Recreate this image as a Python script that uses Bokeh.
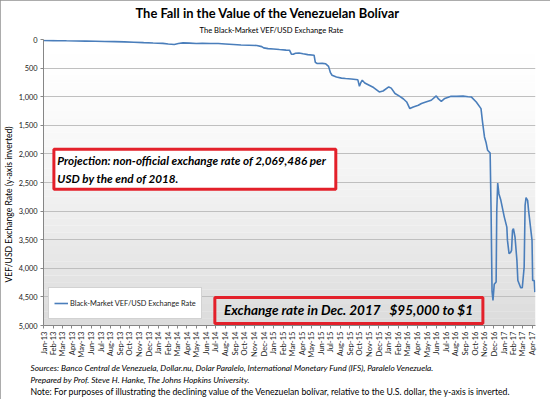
import pandas as pd
from math import pi
from bokeh.plotting import figure
from bokeh.models import (Range1d, MonthsTicker, DatetimeTickFormatter, NumeralTickFormatter,
                          BoxAnnotation, Label, Title, Legend, LegendItem, ColumnDataSource)
from bokeh.embed import file_html
from bokeh.resources import INLINE

# ---------------- data ----------------
dates = ["2013-01-01", "2013-02-01", "2013-02-15", "2013-03-15", "2013-04-15", "2013-05-15",
         "2013-06-15", "2013-07-15", "2013-08-15", "2013-09-15", "2013-10-15", "2013-11-15",
         "2013-12-15", "2014-01-15", "2014-02-01", "2014-02-20", "2014-03-05", "2014-03-20",
         "2014-04-10", "2014-05-01", "2014-05-20", "2014-06-15", "2014-07-10", "2014-08-01",
         "2014-08-27", "2014-09-20", "2014-10-15", "2014-11-09", "2014-11-25", "2014-12-01",
         "2014-12-15", "2015-01-01", "2015-01-20", "2015-02-10", "2015-02-21", "2015-02-27",
         "2015-03-05", "2015-03-12", "2015-03-23", "2015-04-05", "2015-04-20", "2015-05-10",
         "2015-05-14", "2015-05-20", "2015-06-05", "2015-06-16", "2015-06-25", "2015-07-01",
         "2015-07-06", "2015-07-20", "2015-08-05", "2015-08-18", "2015-09-05", "2015-09-19",
         "2015-09-26", "2015-10-01", "2015-10-05", "2015-10-10", "2015-10-18", "2015-11-01",
         "2015-11-15", "2015-12-03", "2015-12-15", "2016-01-02", "2016-01-10", "2016-01-22",
         "2016-02-05", "2016-02-18", "2016-02-28", "2016-03-09", "2016-03-20", "2016-04-05",
         "2016-04-15", "2016-05-01", "2016-05-16", "2016-06-01", "2016-06-08", "2016-06-17",
         "2016-06-28", "2016-07-18", "2016-08-05", "2016-08-25", "2016-09-10", "2016-09-20",
         "2016-10-06", "2016-10-21", "2016-10-26", "2016-11-01", "2016-11-06", "2016-11-11",
         "2016-11-19", "2016-11-22", "2016-11-25", "2016-11-28", "2016-12-02", "2016-12-08",
         "2016-12-10", "2016-12-13", "2016-12-17", "2016-12-23", "2017-01-03", "2017-01-11",
         "2017-01-13", "2017-01-18", "2017-01-23", "2017-01-26", "2017-01-29", "2017-02-01",
         "2017-02-06", "2017-02-12", "2017-02-15", "2017-02-24", "2017-03-01", "2017-03-07",
         "2017-03-10", "2017-03-13", "2017-03-18", "2017-03-21", "2017-04-01", "2017-04-03",
         "2017-04-08", "2017-04-10"]
rates = [18, 19, 21, 23, 25, 28,
         31, 34, 38, 42, 47, 55,
         62, 68, 78, 87, 70, 59,
         64, 70, 67, 70, 70, 78,
         87, 95, 100, 105, 125, 147,
         160, 165, 175, 185, 187, 255,
         257, 240, 235, 250, 265, 275,
         400, 420, 418, 425, 470, 580,
         625, 655, 675, 683, 690, 700,
         705, 817, 760, 712, 760, 800,
         840, 917, 900, 829, 850, 945,
         990, 1040, 1092, 1208, 1180, 1150,
         1120, 1090, 1062, 987, 1040, 1080,
         1030, 992, 995, 990, 1000, 1004,
         1092, 1208, 1450, 1704, 1800, 1937,
         1985, 3000, 4400, 4560, 4280, 4240,
         3000, 2510, 2700, 2812, 3105, 3280,
         3512, 3745, 3720, 3687, 3337, 3308,
         3455, 3862, 4212, 4340, 4340, 3980,
         2900, 2765, 2812, 2987, 3512, 4212,
         4212, 4417]
y_ticks = [0, 500, 1000, 1500, 2000, 2500, 3000, 3500, 4000, 4500, 5000]
series_name = "Black-Market VEF/USD Exchange Rate"
title_text = "The Fall in the Value of the Venezuelan Bolívar"
subtitle_text = "The Black-Market VEF/USD Exchange Rate"
ylabel_text = "VEF/USD Exchange Rate (y-axis inverted)"
note1 = ["Projection: non-official exchange rate of 2,069,486 per", "USD by the end of 2018."]
note2 = "Exchange rate in Dec. 2017\u00a0\u00a0\u00a0$95,000 to $1"
footer = ["Sources: Banco Central de Venezuela, Dollar.nu, Dolar Paralelo, International Monetary Fund (IFS), Paralelo Venezuela.",
          "Prepared by Prof. Steve H. Hanke, The Johns Hopkins University.",
          "Note: For purposes of illustrating the declining value of the Venezuelan bolívar, relative to the U.S. dollar, the y-axis is inverted."]

FONT = "Lato"
RED = "#e3202a"

def ms(s):
    return pd.Timestamp(s).timestamp() * 1000.0

# figure geometry (pixels) - Bokeh's page template has no body margin
W, H = 550, 399
L, R, T, B = 38, 535, 39, 325
X0, X1 = ms("2013-01-01"), ms("2017-04-12")
Y0, Y1 = 0, 5000

src = ColumnDataSource(dict(date=pd.to_datetime(dates), rate=rates))

p = figure(width=W, height=H, output_backend="svg", toolbar_location=None,
           x_axis_type="datetime",
           x_range=Range1d(X0, X1), y_range=Range1d(Y1, Y0),
           min_border_left=L, min_border_right=W - R, min_border_top=T,
           min_border_bottom=H - B,
           background_fill_color="white", border_fill_color="white")
p.outline_line_color = None
p.title.visible = False
p.styles = {"outline": "2px solid #909090", "outline-offset": "-2px"}

# gradient plot background (decoration)
N = 40
gx0, gx1, gy0, gy1, gc = [], [], [], [], []
for i in range(N):
    t = (i + 0.5) / N
    g = int(round(255 - 36 * t ** 1.5))
    gx0.append(X0); gx1.append(X1)
    gy0.append(i * (Y1 - Y0) / N); gy1.append((i + 1) * (Y1 - Y0) / N + 1)
    gc.append("#%02x%02x%02x" % (g, g, g))
p.quad(left=gx0, right=gx1, top=gy0, bottom=gy1, fill_color=gc, line_color=None, level="image")

r = p.line("date", "rate", source=src, line_color="#4a7ebb", line_width=1.6)

# axes
p.xaxis.ticker = MonthsTicker(months=list(range(12)))
p.xaxis.formatter = DatetimeTickFormatter(days="%b-%y", months="%b-%y", years="%b-%y")
p.xaxis.major_label_orientation = pi / 2
p.xaxis.major_label_text_font = FONT
p.xaxis.major_label_text_font_size = "7.6px"
p.xaxis.major_label_text_color = "#1a1a1a"
p.xaxis.major_label_standoff = 3
p.xaxis.major_tick_in = 0
p.xaxis.major_tick_out = 3
p.xaxis.minor_tick_out = 0
p.xaxis.axis_line_color = "#868686"
p.xaxis.major_tick_line_color = "#868686"

p.yaxis.ticker = y_ticks
p.yaxis.formatter = NumeralTickFormatter(format="0,0")
p.yaxis.major_label_text_font = FONT
p.yaxis.major_label_text_font_size = "7.4px"
p.yaxis.major_label_text_color = "#1a1a1a"
p.yaxis.major_label_standoff = 3
p.yaxis.major_tick_in = 0
p.yaxis.major_tick_out = 3
p.yaxis.minor_tick_out = 0
p.yaxis.minor_tick_in = 0
p.yaxis.axis_line_color = "#868686"
p.yaxis.major_tick_line_color = "#868686"
# trailing no-break spaces shift the centred title toward the bottom, as in the reference
p.yaxis.axis_label = ylabel_text + "\u00a0" * 20
p.yaxis.axis_label_text_font = FONT
p.yaxis.axis_label_text_font_size = "8.6px"
p.yaxis.axis_label_text_font_style = "normal"
p.yaxis.axis_label_text_color = "black"
p.yaxis.axis_label_standoff = 2

p.xgrid.visible = False
p.ygrid.ticker = y_ticks
p.ygrid.grid_line_color = "#bfbfbf"

# annotation boxes
p.add_layout(BoxAnnotation(left=ms("2013-02-03"), right=ms("2015-07-18"), top=1920, bottom=2620,
                           fill_color="white", fill_alpha=1.0, line_color=RED, line_alpha=1.0,
                           line_width=3))
p.add_layout(Label(x=ms("2013-02-14"), y=2112, text=note1[0], text_font=FONT, text_font_size="11.7px",
                   text_font_style="bold italic", text_baseline="middle", text_color="black"))
p.add_layout(Label(x=ms("2013-02-14"), y=2427, text=note1[1], text_font=FONT, text_font_size="11.7px",
                   text_font_style="bold italic", text_baseline="middle", text_color="black"))
p.add_layout(BoxAnnotation(left=ms("2014-06-29"), right=ms("2016-10-27"), top=4510, bottom=4965,
                           fill_color=None, fill_alpha=0, line_color=RED, line_alpha=1.0, line_width=3))
p.add_layout(Label(x=ms("2014-07-28"), y=4737, text=note2, text_font=FONT, text_font_size="13.5px",
                   text_font_style="bold italic", text_baseline="middle", text_color="black"))

# legend
leg = Legend(items=[LegendItem(label=series_name, renderers=[r])], location=(5, 6),
             label_text_font=FONT, label_text_font_size="7.4px", label_text_color="#1a1a1a",
             glyph_width=14, glyph_height=20, label_height=20, label_standoff=2,
             padding=5, margin=0, spacing=0,
             border_line_color="#a6a6a6", background_fill_color="white", background_fill_alpha=1.0)
p.add_layout(leg)

# titles (subtitle first: closest to the frame)
p.add_layout(Title(text=subtitle_text, align="left", offset=156, text_font=FONT,
                   text_font_size="7.6px", text_font_style="normal", text_color="black",
                   standoff=10), "above")
p.add_layout(Title(text=title_text, align="left", offset=92, text_font=FONT,
                   text_font_size="12.9px", text_font_style="bold", text_color="black",
                   standoff=-6), "above")
for i, line in enumerate(footer):
    p.add_layout(Title(text=line, align="left", offset=-13, text_font=FONT,
                       text_font_size=("8.3px" if i < 2 else "8.7px"),
                       text_font_style="italic" if i < 2 else "normal", text_color="black",
                       standoff=(1 if i == 0 else -1)), "below")

open("out.html", "w").write(file_html(p, INLINE))
